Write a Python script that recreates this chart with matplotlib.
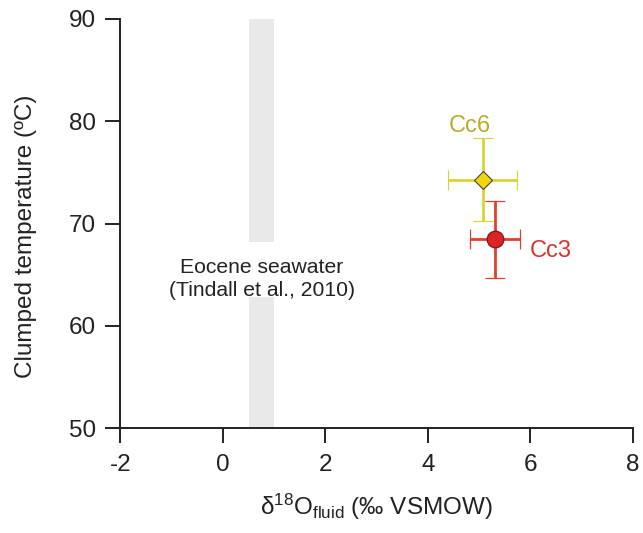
import matplotlib
matplotlib.use("Agg")
import matplotlib.pyplot as plt

plt.rcParams['font.family'] = ['Liberation Sans', 'DejaVu Sans']
plt.rcParams['axes.unicode_minus'] = False

# samples: d18O fluid, clumped temperature, errors
samples = ["Cc6", "Cc3"]
d18o = [5.07, 5.31]
d18o_err = [0.67, 0.49]
temps = [74.3, 68.47]
temps_err = [4.03, 3.77]

# Eocene seawater range (Tindall et al., 2010)
sw_range = [0.5, 1.0]

fig = plt.figure(figsize=(6.43, 5.33), dpi=100)
ax = fig.add_axes([0.1874, 0.1966, 0.7969, 0.7678])

# gray band, broken where the label sits
ax.axvspan(sw_range[0], sw_range[1], ymin=0, ymax=0.321, color='#e9e9e9', lw=0, zorder=0)
ax.axvspan(sw_range[0], sw_range[1], ymin=0.455, ymax=1, color='#e9e9e9', lw=0, zorder=0)
ax.text(0.76, 64.6, "Eocene seawater\n(Tindall et al., 2010)", ha='center', va='center',
        fontsize=15.2, color='#222222', linespacing=1.25, zorder=1)

# Cc6
ax.errorbar(d18o[0], temps[0], xerr=d18o_err[0], yerr=temps_err[0], fmt='D',
            color='#dad335', mfc='#f2d60c', mec='#444444', mew=0.8, ms=8.8,
            elinewidth=2, capsize=7.3, capthick=2, zorder=3)
ax.text(d18o[0] - 0.25, 78.5, samples[0], ha='center', va='bottom', fontsize=17,
        color='#b9ab2c')

# Cc3
ax.errorbar(d18o[1], temps[1], xerr=d18o_err[1], yerr=temps_err[1], fmt='o',
            color='#e0402e', mfc='#dc2222', mec='#7a1a1a', mew=0.9, ms=12,
            elinewidth=2, capsize=7.3, capthick=2, zorder=4)
ax.text(5.98, 67.3, samples[1], ha='left', va='center', fontsize=17, color='#d8342a')

ax.set_xlim(-2, 8)
ax.set_ylim(50, 90)
ax.set_xticks(range(-2, 9, 2))
ax.set_yticks(range(50, 91, 10))
for s in ['top', 'right']:
    ax.spines[s].set_visible(False)
for s in ['left', 'bottom']:
    ax.spines[s].set_linewidth(1.4)
    ax.spines[s].set_color('#222222')
ax.tick_params(direction='out', length=10.5, width=1.4, labelsize=17.5, colors='#222222')
ax.tick_params(axis='x', pad=8)
ax.tick_params(axis='y', pad=7)

ax.set_xlabel(r"$\mathregular{\delta^{18}O_{fluid}}$ (‰ VSMOW)", fontsize=17.5,
              color='#222222')
ax.xaxis.label.set_va('baseline')
ax.xaxis.set_label_coords(0.499, -0.212)
ax.set_ylabel("Clumped temperature (ºC)", fontsize=17.5, color='#222222')
ax.yaxis.set_label_coords(-0.163, 0.468)

fig.savefig("out.png", dpi=100)
